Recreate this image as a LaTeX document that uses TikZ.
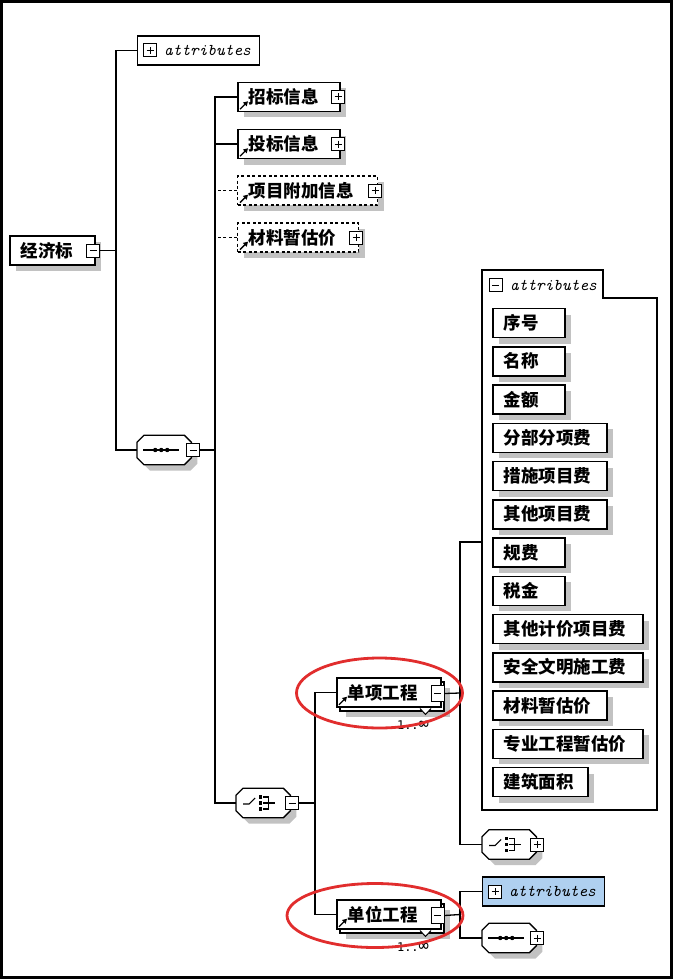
\documentclass[tikz,border=0pt]{standalone}
\usepackage{fontspec}
\newfontfamily\cjk{Noto Sans CJK SC}
\newfontfamily\monof{DejaVu Sans Mono}
\usetikzlibrary{shadows,arrows.meta,calc}
\definecolor{shd}{gray}{0.76}
\definecolor{attblue}{RGB}{175,208,240}
\definecolor{ellred}{RGB}{225,45,45}
\tikzset{
  conn/.style={line width=1.3pt},
  dropsh/.style={general shadow={fill=shd, shadow xshift=6pt, shadow yshift=-6pt}},
  cjkfont/.style={font=\cjk\bfseries\fontsize{17.5}{20}\selectfont},
  elem/.style={draw, line width=1.5pt, fill=white, minimum height=29pt, inner xsep=11pt, inner ysep=0pt, text width=#1, align=left, anchor=west, cjkfont},
  attbox/.style={elem=#1, dropsh},
  pmbox/.style={draw, fill=white, line width=1pt, minimum width=13pt, minimum height=13pt, inner sep=0pt},
  pmplus/.style={pmbox, path picture={\draw[line width=1pt] ([xshift=3pt]path picture bounding box.west) -- ([xshift=-3pt]path picture bounding box.east) ([yshift=-3pt]path picture bounding box.north) -- ([yshift=3pt]path picture bounding box.south);}},
  pmminus/.style={pmbox, path picture={\draw[line width=1pt] ([xshift=3pt]path picture bounding box.west) -- ([xshift=-3pt]path picture bounding box.east);}},
  octoframe/.style={draw=none, minimum width=54pt, minimum height=29pt, inner sep=0pt, anchor=west},
  octoline/.style={draw, line width=1.3pt, fill=white, dropsh},
  attrtxt/.style={font=\ttfamily\itshape\fontsize{16.5}{16.5}\selectfont, inner sep=0pt},
  refarrow/.style={-{Triangle[length=4.5pt,width=5pt]}, line width=1.3pt},
  ell/.style={draw=ellred, line width=2.8pt},
  dsh/.style={dashed, dash pattern=on 3pt off 2.5pt},
  multlabel/.style={font=\monof\fontsize{12}{12}\selectfont, inner sep=0pt},
}
\newcommand\octagon[2]{%
  \node[octoframe] (#1) at (#2) {};
  \path[octoline] ($(#1.north west)+(7,0)$) -- ($(#1.north east)+(-7,0)$) -- ($(#1.north east)+(0,7)$)
    -- ($(#1.south east)+(0,-7)$) -- ($(#1.south east)+(-7,0)$) -- ($(#1.south west)+(7,0)$)
    -- ($(#1.south west)+(0,-7)$) -- ($(#1.north west)+(0,7)$) -- cycle;}
\newcommand\seqsym[1]{%
  \draw[line width=1.1pt] ($(#1.center)+(-21,0)$) -- ($(#1.center)+(15,0)$);
  \foreach \dx in {-9,-3,3} \fill ($(#1.center)+(\dx,0)$) circle (2.2pt);}
\newcommand\chsym[1]{%
  \draw[line width=1.1pt] ($(#1.center)+(-20,1)$) -- ($(#1.center)+(-14,1)$) -- ($(#1.center)+(-8,-5)$);
  \foreach \dy in {-6,0,6} \fill ($(#1.center)+(-4.5,\dy)+(0,-1.7)$) rectangle ($(#1.center)+(-1.3,\dy)+(0,1.7)$);
  \draw[line width=1.1pt] ($(#1.center)+(0,-6)$) -- ($(#1.center)+(5,-6)$) -- ($(#1.center)+(5,6)$) -- ($(#1.center)+(0,6)$);
  \draw[line width=1.1pt] ($(#1.center)+(0,0)$) -- ($(#1.center)+(12,0)$);}
\begin{document}
\begin{tikzpicture}[x=1pt,y=-1pt]
\useasboundingbox (0,0) rectangle (673,979);
\fill[white] (0,0) rectangle (673,979);
\draw[line width=3pt] (1.5,1.5) rectangle (671.5,977.5);

% root
\node[elem=63pt, dropsh] (jjb) at (9,250.5) {经济标};
\node[pmminus] (jjbpm) at (93,250.5) {};

% top attributes
\node[draw, line width=1.3pt, fill=white, minimum width=122pt, minimum height=29pt, anchor=west, inner sep=0pt] (attr1) at (137,50.5) {};
\node[pmplus] (attr1pm) at (150,50.5) {};
\node[attrtxt, anchor=west] (attr1t) at (164,50.5) {attributes};

% sequence 1
\octagon{seq1}{137,450}
\seqsym{seq1}
\node[pmminus] (seq1pm) at (193,450) {};

% elements
\node[elem=80pt, dropsh] (zb) at (237,97) {招标信息};
\node[pmplus] (zbpm) at (338,97) {};
\node[elem=80pt, dropsh] (tb) at (237,144) {投标信息};
\node[pmplus] (tbpm) at (338,144) {};
\node[elem=118pt, dropsh, dsh, line width=1.3pt] (xm) at (237,190.5) {项目附加信息};
\node[pmplus] (xmpm) at (375,190.5) {};
\node[elem=99pt, dropsh, dsh, line width=1.3pt] (cl) at (237,237.5) {材料暂估价};
\node[pmplus] (clpm) at (356,237.5) {};
\foreach \n in {zb,tb,xm,cl}
  \draw[refarrow] ([xshift=3pt,yshift=3pt]\n.south west) -- ++(8,-8);

% choice 1
\octagon{ch1}{236,803}
\chsym{ch1}
\node[pmminus] (ch1pm) at (292,803) {};

% 单项工程
\path[draw, fill=white, line width=1.3pt, dropsh] (340,682) rectangle (444,711);
\node[elem=82pt] (dx) at (336,692.5) {单项工程};
\node[pmminus, minimum height=16pt] (dxpm) at (437.5,693.5) {};
\draw[refarrow] ([xshift=3pt,yshift=3pt]dx.south west) -- ++(8,-8);
\draw[line width=1pt, fill=white] (420,708.5) -- (425.5,714.5) -- (431,708.5);
\node[multlabel] (dxm) at (413,725) {1..{\fontsize{17}{17}\selectfont ∞}};

% 单位工程
\path[draw, fill=white, line width=1.3pt, dropsh] (340,904) rectangle (444,933);
\node[elem=82pt] (dw) at (336,914.5) {单位工程};
\node[pmminus, minimum height=16pt] (dwpm) at (437.5,915.5) {};
\draw[refarrow] ([xshift=3pt,yshift=3pt]dw.south west) -- ++(8,-8);
\draw[line width=1pt, fill=white] (420,930.5) -- (425.5,936.5) -- (431,930.5);
\node[multlabel] (dwm) at (413,947) {1..{\fontsize{17}{17}\selectfont ∞}};

% attributes panel
\draw[conn] (482,810) -- (482,270) -- (603,270) -- (603,298) -- (657,298) -- (657,810) -- cycle;
\coordinate (panelL) at (482,542);
\node[pmminus] (panelpm) at (495.5,285) {};
\node[attrtxt, anchor=west] (panelt) at (510,285) {attributes};
\foreach \t/\w [count=\i from 0] in {序号/50,名称/50,金额/50,分部分项费/92,措施项目费/92,其他项目费/92,规费/50,税金/50,其他计价项目费/128,安全文明施工费/128,材料暂估价/92,专业工程暂估价/128,建筑面积/73}
  \node[attbox=\w pt] (a\i) at (492,{323+38.25*\i}) {\t};

% choice 2
\octagon{ch2}{482,844.5}
\chsym{ch2}
\node[pmplus] (ch2pm) at (537,844.5) {};

% attributes 2
\node[draw, line width=1.3pt, fill=attblue, minimum width=122pt, minimum height=29pt, anchor=west, inner sep=0pt] (attr2) at (482,891.5) {};
\node[pmplus] (attr2pm) at (495,891.5) {};
\node[attrtxt, anchor=west] (attr2t) at (509,891.5) {attributes};

% sequence 2
\octagon{seq2}{482,938}
\seqsym{seq2}
\node[pmplus] (seq2pm) at (537,938) {};

% junctions & connectors
\coordinate (j1) at (116,250.5);
\coordinate (j2) at (215,450);
\coordinate (j3) at (315,803);
\coordinate (j4) at (460,693);
\coordinate (j5) at (460,914.5);
\draw[conn] (jjbpm.east) -- (j1);
\draw[conn] (attr1.west) -| (j1) |- (seq1.west);
\draw[conn] (seq1pm.east) -- (j2);
\draw[conn] (zb.west) -| (j2) |- (ch1.west);
\draw[conn] (tb.west) -- (tb.west -| j2);
\draw[conn, dsh] (xm.west) -- (xm.west -| j2);
\draw[conn, dsh] (cl.west) -- (cl.west -| j2);
\draw[conn] (ch1pm.east) -- (j3);
\draw[conn] (dx.west) -| (j3) |- (dw.west);
\draw[conn] (dxpm.east) -- (j4);
\draw[conn] (panelL) -| (j4) |- (ch2.west);
\draw[conn] (dwpm.east) -- (j5);
\draw[conn] (attr2.west) -| (j5) |- (seq2.west);

% highlight ellipses
\draw[ell] (379.5,693) ellipse [x radius=83pt, y radius=35pt];
\draw[ell] (375,915.5) ellipse [x radius=88pt, y radius=32pt];
\end{tikzpicture}
\end{document}
